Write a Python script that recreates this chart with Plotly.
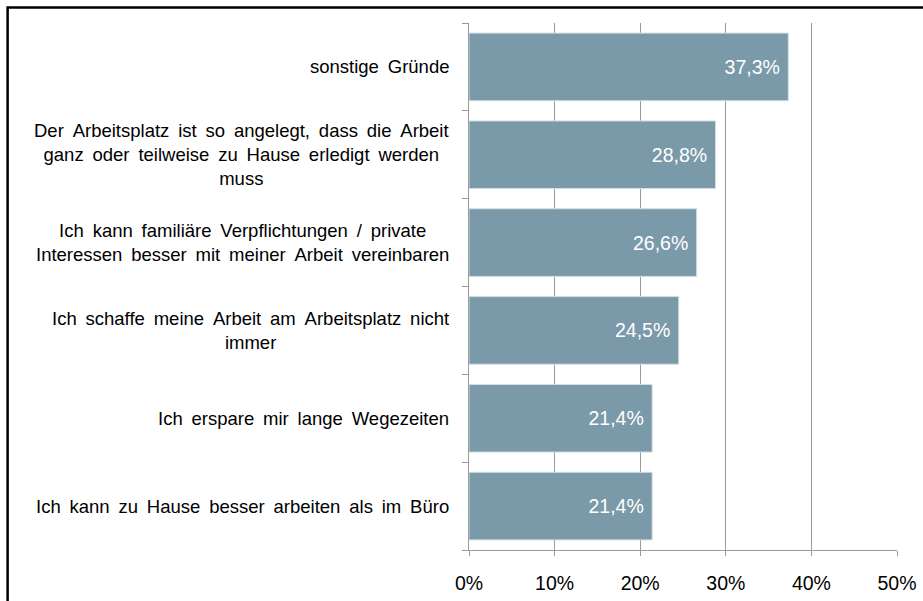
import plotly.graph_objects as go

# Survey reasons (top to bottom) and their shares in percent
categories = [
    "sonstige Gründe",
    "Der Arbeitsplatz ist so angelegt, dass die Arbeit<br>ganz oder teilweise zu Hause erledigt werden<br>muss",
    "Ich kann familiäre Verpflichtungen / private<br>Interessen besser mit meiner Arbeit vereinbaren",
    "Ich schaffe meine Arbeit am Arbeitsplatz nicht<br>immer",
    "Ich erspare mir lange Wegezeiten",
    "Ich kann zu Hause besser arbeiten als im Büro",
]
values = [37.3, 28.8, 26.6, 24.5, 21.4, 21.4]
x_ticks = [0, 10, 20, 30, 40, 50]
x_tick_text = ["0%", "10%", "20%", "30%", "40%", "50%"]

FONT = "Liberation Sans, Arial, sans-serif"
BAR = "#7b9aa9"
GRID = "#9a9a9a"

fig = go.Figure(
    go.Bar(
        x=values,
        y=list(range(len(categories))),
        orientation="h",
        marker=dict(color=BAR, line=dict(color="#d3dee4", width=1)),
        texttemplate="%{x:.1f}%\u00a0",
        textposition="inside",
        insidetextanchor="end",
        textfont=dict(color="white", size=19.5, family=FONT),
        width=0.77,
        hoverinfo="skip",
    )
)

# Category labels: right-aligned block, centred lines
for i, label in enumerate(categories):
    fig.add_annotation(
        x=0, xref="paper", y=i, yref="y",
        text=label.replace(" ", " \u2009"), showarrow=False,
        xanchor="right", yanchor="middle", align="center",
        xshift=-18,
        font=dict(size=18.5, color="black", family=FONT),
    )

# Outer frame
fig.add_shape(
    type="rect", xref="paper", yref="paper",
    x0=-1.078, x1=1.2, y0=-0.2, y1=1.0294,
    line=dict(color="black", width=2.5), layer="below",
)

fig.update_layout(
    width=923, height=601,
    margin=dict(l=469, r=26, t=23, b=51, autoexpand=False),
    paper_bgcolor="white", plot_bgcolor="white",
    separators=",.",
    showlegend=False,
    font=dict(family=FONT, size=19, color="black"),
    xaxis=dict(
        range=[0, 50], tickvals=x_ticks, ticktext=x_tick_text,
        showgrid=True, gridcolor=GRID, gridwidth=1,
        showline=True, linecolor=GRID, linewidth=1,
        ticks="outside", ticklen=5, tickcolor=GRID,
        ticklabelstandoff=11, automargin=False,
        zeroline=False,
        tickfont=dict(size=19.5, color="black", family=FONT),
    ),
    yaxis=dict(
        range=[5.5, -0.5],
        tickvals=[i - 0.5 for i in range(len(categories) + 1)],
        showticklabels=False,
        ticks="outside", ticklen=6, tickcolor=GRID,
        showgrid=False, zeroline=False, automargin=False,
        showline=True, linecolor=GRID, linewidth=1,
    ),
)

fig.write_html("out.html")
